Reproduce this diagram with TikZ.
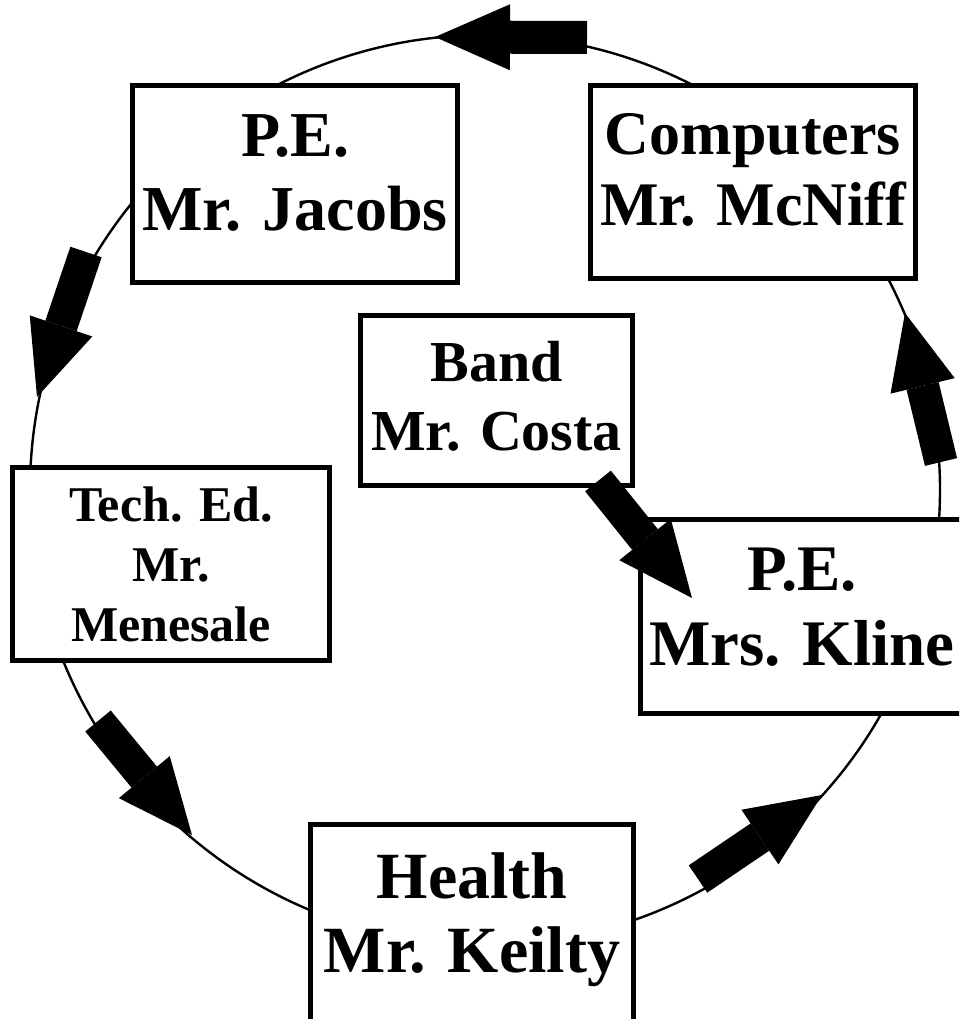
\documentclass[tikz,border=0pt]{standalone}
\usepackage{fontspec}
\setmainfont{Liberation Serif}
\usetikzlibrary{arrows.meta}

\begin{document}
\begin{tikzpicture}[x=1pt, y=-1pt, thick,
    main/.style = {draw, line width=5pt, fill=white, align=center, inner sep=0pt},
    flow/.style = {line width=33pt, -{Triangle[length=75pt, width=66pt, line width=0pt]}}]
		\useasboundingbox (0,0) rectangle (959,1019);
		\clip (0,0) rectangle (959,1019);
		\coordinate (c) at (485,490);
		\draw[line width=2.4pt] (c) circle[radius=455pt];

		\node[main, minimum width=325pt, minimum height=197pt, text depth=23pt, font=\bfseries\fontsize{64}{74}\selectfont] (1) at (295,184) {P.E.\\Mr. Jacobs};
		\node[main, minimum width=325pt, minimum height=193pt, text depth=25pt, font=\bfseries\fontsize{62}{71}\selectfont] (2) at (753,182) {Computers\\Mr. McNiff};
		\node[main, minimum width=272pt, minimum height=170pt, text depth=9pt, font=\bfseries\fontsize{58}{69}\selectfont] (3) at (496.5,400.5) {Band\\Mr. Costa};
		\node[main, minimum width=317pt, minimum height=193pt, text depth=-9pt, font=\bfseries\fontsize{50}{60}\selectfont] (4) at (171,564) {Tech. Ed.\\Mr.\\Menesale};
		\node[main, minimum width=323pt, minimum height=194pt, text depth=20pt, font=\bfseries\fontsize{65}{75}\selectfont] (5) at (802,616.5) {P.E.\\Mrs. Kline};
		\node[main, minimum width=323pt, minimum height=204pt, text depth=28pt, font=\bfseries\fontsize{66}{74}\selectfont] (6) at (472,926.5) {Health\\Mr. Keilty};

		\coordinate (t1) at (587,37.5);
		\coordinate (h1) at (435,37);
		\coordinate (t2) at (86,252);
		\coordinate (h2) at (37,397);
		\coordinate (t3) at (598,481);
		\coordinate (h3) at (692,598);
		\coordinate (t4) at (698,879);
		\coordinate (h4) at (822,795);
		\coordinate (t5) at (941,462);
		\coordinate (h5) at (905,313);
		\coordinate (t6) at (98,721);
		\coordinate (h6) at (192,835);

		\draw[flow] (t1) -- (h1);
		\draw[flow] (t2) -- (h2);
		\draw[flow] (t3) -- (h3);
		\draw[flow] (t4) -- (h4);
		\draw[flow] (t5) -- (h5);
		\draw[flow] (t6) -- (h6);
	\end{tikzpicture}
\end{document}
